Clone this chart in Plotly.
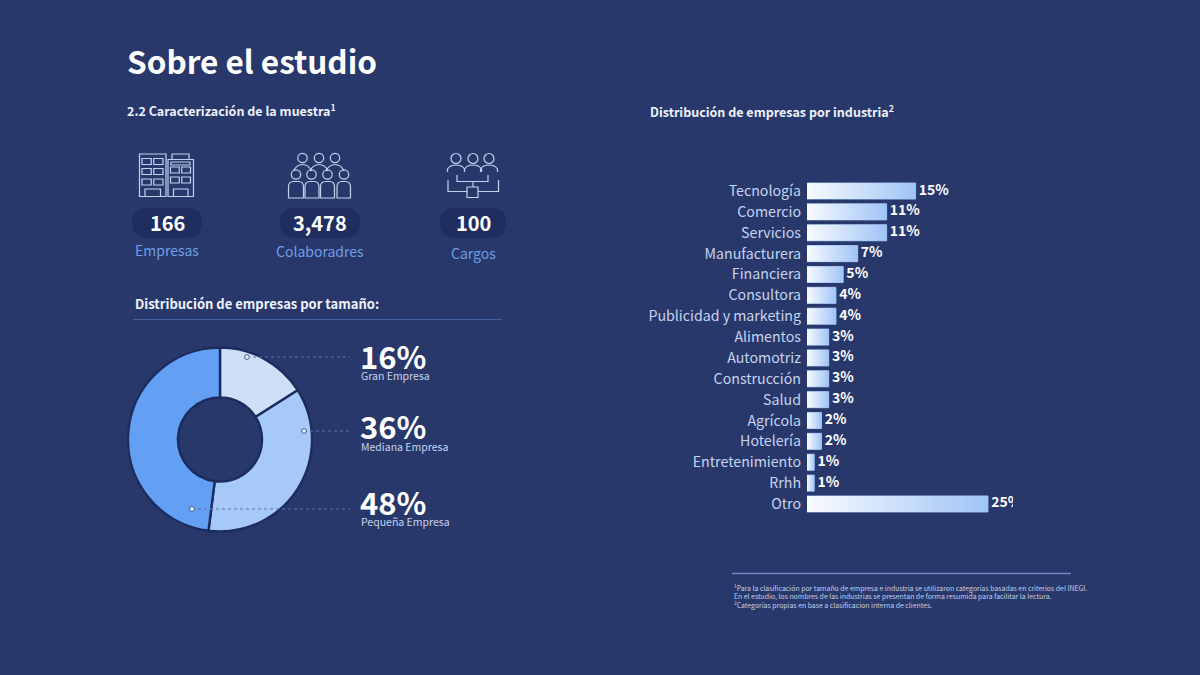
import plotly.graph_objects as go

# ---- data ----
sample_values = ["166", "3,478", "100"]
sample_labels = ["Empresas", "Colaboradres", "Cargos"]

size_labels = ["Gran Empresa", "Mediana Empresa", "Pequeña Empresa"]
size_shares = [16, 36, 48]

industries = ["Tecnología", "Comercio", "Servicios", "Manufacturera", "Financiera", "Consultora",
              "Publicidad y marketing", "Alimentos", "Automotriz", "Construcción", "Salud",
              "Agrícola", "Hotelería", "Entretenimiento", "Rrhh", "Otro"]
industry_shares = [15, 11, 11, 7, 5, 4, 4, 3, 3, 3, 3, 2, 2, 1, 1, 25]

footnotes = [
    "<sup>1</sup>Para la clasificación por tamaño de empresa e industria se utilizaron categorías basadas en criterios del INEGI.",
    "En el estudio, los nombres de las industrias se presentan de forma resumida para facilitar la lectura.",
    "<sup>2</sup>Categorías propias en base a clasificacion interna de clientes.",
]

# ---- style ----
BG = "#28386b"
FONT = "Noto Sans CJK JP"
PILL = "#1f2e5e"
ICON = "#c3d2ee"
LABEL_BLUE = "#6f9fe6"
SOFT = "#c6d4ee"
W, H = 1200, 675

fig = go.Figure()

# Donut of company sizes
fig.add_trace(go.Pie(
    labels=size_labels, values=size_shares, hole=0.457, sort=False, direction="clockwise",
    rotation=0, textinfo="none", showlegend=False, hoverinfo="label+percent",
    marker=dict(colors=["#cfdff8", "#a6c9f9", "#639ff2"], line=dict(color="#1c2c5e", width=2.4)),
    domain=dict(x=[128 / W, 312 / W], y=[1 - 532 / H, 1 - 347 / H]),
))

# Industry bars: solid base, gradient face, and value labels clipped by the plot area
BAR_THICK = 0.77
rows = list(range(len(industries)))
fig.add_trace(go.Bar(
    x=industry_shares, y=rows, orientation="h", width=BAR_THICK, showlegend=False,
    marker=dict(color="#9cc1f4", line=dict(color="#8db4ee", width=1)),
    customdata=industries, hovertemplate="%{customdata}: %{x}%<extra></extra>",
))
for row, share in zip(rows, industry_shares):
    half = BAR_THICK / 2
    fig.add_trace(go.Scatter(
        x=[0, share, share, 0, 0], y=[row - half, row - half, row + half, row + half, row - half],
        mode="lines", line=dict(width=0), fill="toself", showlegend=False, hoverinfo="skip",
        fillgradient=dict(type="horizontal", colorscale=[[0, "#f8fbff"], [1, "#a0c4f6"]]),
    ))
fig.add_trace(go.Scatter(
    x=industry_shares, y=rows, mode="text", text=[f" {v}%" for v in industry_shares],
    textposition="middle right", cliponaxis=True, showlegend=False, hoverinfo="skip",
    textfont=dict(family=FONT, size=14, color="white", weight=700),
))

# Shapes and text for the page furniture live on a pixel-scaled overlay axis
shapes, notes = [], []


def text(x, y, s, size, color="white", bold=False, anchor="left"):
    notes.append(dict(x=x, y=y, xref="x2", yref="y2", text=s, showarrow=False, xanchor=anchor,
                      yanchor="middle", align=anchor,
                      font=dict(family=FONT, size=size, color=color, weight=700 if bold else 400)))


def path(d, color=ICON, width=1.2, fill=None, dash=None):
    shapes.append(dict(type="path", xref="x2", yref="y2", path=d, layer="above",
                       fillcolor=fill or "rgba(0,0,0,0)",
                       line=dict(color=color, width=width, dash=dash or "solid")))


def line(x0, y0, x1, y1, color, width=1.0, dash=None):
    shapes.append(dict(type="line", xref="x2", yref="y2", x0=x0, y0=y0, x1=x1, y1=y1, layer="above",
                       line=dict(color=color, width=width, dash=dash or "solid")))


def circle(cx, cy, r, color=ICON, width=1.2, fill=None):
    shapes.append(dict(type="circle", xref="x2", yref="y2", x0=cx - r, y0=cy - r, x1=cx + r, y1=cy + r,
                       layer="above", fillcolor=fill or "rgba(0,0,0,0)", line=dict(color=color, width=width)))


def rect(x0, y0, x1, y1, **kw):
    path(f"M{x0},{y0} L{x1},{y0} L{x1},{y1} L{x0},{y1} Z", **kw)


def round_rect(x0, y0, x1, y1, r, **kw):
    path(f"M{x0+r},{y0} L{x1-r},{y0} Q{x1},{y0} {x1},{y0+r} L{x1},{y1-r} Q{x1},{y1} {x1-r},{y1} "
         f"L{x0+r},{y1} Q{x0},{y1} {x0},{y1-r} L{x0},{y0+r} Q{x0},{y0} {x0+r},{y0} Z", **kw)


# Headings
text(125, 60, "Sobre el estudio", 31.5, bold=True)
text(125, 110, "2.2 Caracterización de la muestra<sup>1</sup>", 12.5, color="#eef2fb", bold=True)
text(648, 111, "Distribución de empresas por industria<sup>2</sup>", 12.5, color="#eef2fb", bold=True)
text(133, 303, "Distribución de empresas por tamaño:", 13, color="#eef2fb", bold=True)
line(133, 319.5, 502, 319.5, "#40609f", 1.2)

# Pills behind the sample counts, with their captions
pill_spans = [(132, 202), (280, 360), (440, 506)]
caption_y = [250, 251, 253]
for (x0, x1), value, label, cy in zip(pill_spans, sample_values, sample_labels, caption_y):
    mid = (x0 + x1) / 2
    round_rect(x0, 208, x1, 238, 15, color=PILL, width=0, fill=PILL)
    text(mid, 222, value, 20, bold=True, anchor="center")
    text(mid, cy, label, 14, color=LABEL_BLUE, anchor="center")

# Buildings icon
for x0, x1 in [(139.5, 166), (168, 193.5)]:
    top = 154 if x0 < 150 else 159.5
    rect(x0, top, x1, 196.5)
    w = (x1 - x0) / 2 - 4
    for col in range(2):
        for wy in (top + 4.5 if x0 < 150 else 167, 168.5 if x0 < 150 else 177, 179 if x0 < 150 else 0):
            if wy:
                rx = x0 + 2.5 + col * (w + 2.5)
                rect(rx, wy, rx + w, wy + 6)
    rect(x0 + 5.5, 189, x1 - 5.5, 196.5)
rect(172, 154, 189, 159.5)
rect(171, 162, 190, 165)

# Collaborators icon
for cx in (302.5, 319, 335):
    circle(cx, 158, 4.7)
    path(f"M{cx-9},{171} Q{cx-6},{164.5} {cx},{164.5} Q{cx+6},{164.5} {cx+9},{171}")
for cx in (296, 311.5, 327.5, 344):
    circle(cx, 174.5, 4.7)
for x0, x1 in [(288.5, 303.5), (305, 319), (320.5, 334.5), (337, 350.5)]:
    path(f"M{x0},198 L{x0},187 Q{x0},181.5 {x0+5},181.5 L{x1-5},181.5 Q{x1},181.5 {x1},187 L{x1},198 Z")

# Positions icon
for cx in (456, 473, 489):
    circle(cx, 158.5, 5)
    path(f"M{cx-8.5},{172} L{cx-8.5},{169} Q{cx-6},{165} {cx},{165} Q{cx+6},{165} {cx+8.5},{169} L{cx+8.5},{172}")
path("M457,175 L457,181.5 L488,181.5 L488,175")
line(473, 181.5, 473, 187, ICON, 1.2)
rect(467, 187, 478, 197.5)
path("M448,180 L448,191.5 L467,191.5")
path("M498.5,180 L498.5,191.5 L478,191.5")

# Leader lines, markers and headline figures for the donut
leader_starts = [(247, 357), (304, 431), (192, 509)]
figure_y = [355, 425, 501]
caption_rows = [375, 446, 521]
for (dx, dy), share, label, fy, cy in zip(leader_starts, size_shares, size_labels, figure_y, caption_rows):
    line(dx, dy, 350, dy, "#5d74a8", 1, dash="dot")
    circle(dx, dy, 2.4, color="#3d5c8f", width=1, fill="#eaf4ff")
    text(358, fy, f"{share}%", 31, bold=True)
    text(359, cy, label, 10.5, color=SOFT)

# Footnotes
line(732, 573.5, 1071, 573.5, "#6f87c2", 1.4)
for y, note in zip([587, 595.5, 604], footnotes):
    text(732, y, note, 6.9, color="#c3cfe8")

top_px, bottom_px = 180.6, 514.4
fig.update_layout(
    width=W, height=H, autosize=False, margin=dict(l=0, r=0, t=0, b=0),
    paper_bgcolor=BG, plot_bgcolor="rgba(0,0,0,0)", barmode="overlay",
    shapes=shapes, annotations=notes,
    xaxis=dict(domain=[807 / W, 1013 / W], range=[0, 206 / 7.24], visible=False, fixedrange=True),
    yaxis=dict(domain=[1 - bottom_px / H, 1 - top_px / H], range=[len(industries) - 0.5, -0.5],
               tickmode="array", tickvals=rows, ticktext=industries, showgrid=False, zeroline=False,
               showline=False, ticks="", ticklabelstandoff=5, fixedrange=True,
               tickfont=dict(family=FONT, size=14.2, color=SOFT)),
    xaxis2=dict(domain=[0, 1], range=[0, W], visible=False, fixedrange=True, anchor="y2"),
    yaxis2=dict(domain=[0, 1], range=[H, 0], visible=False, fixedrange=True, anchor="x2"),
)

fig.write_html("out.html", config=dict(displayModeBar=False))
